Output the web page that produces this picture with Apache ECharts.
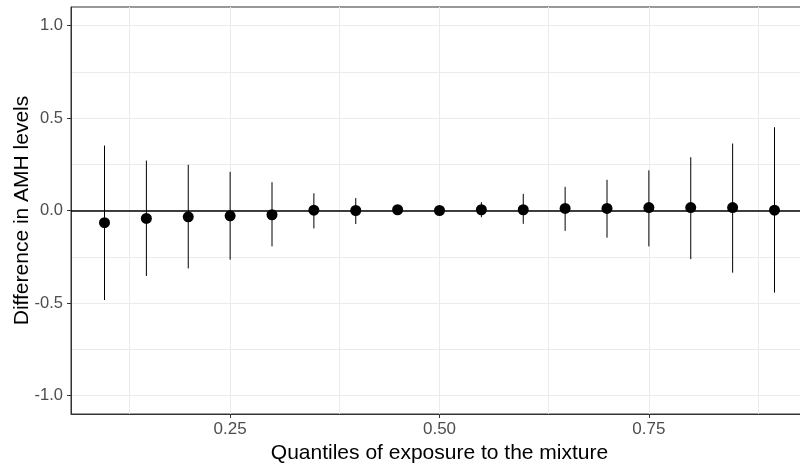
<!DOCTYPE html>
<html>
<head>
<meta charset="utf-8">
<script src="https://cdn.jsdelivr.net/npm/echarts@6/dist/echarts.min.js"></script>
<style>html,body{margin:0;padding:0;background:#fff}#chart{width:800px;height:466px}</style>
</head>
<body>
<div id="chart"></div>
<script>
var quantiles = [0.10,0.15,0.20,0.25,0.30,0.35,0.40,0.45,0.50,0.55,0.60,0.65,0.70,0.75,0.80,0.85,0.90];
var estimate = [-0.066,-0.043,-0.034,-0.029,-0.023,0.002,0.000,0.004,0.000,0.004,0.004,0.011,0.011,0.016,0.016,0.016,0.002];
var lower = [-0.484,-0.354,-0.313,-0.266,-0.194,-0.097,-0.073,-0.020,-0.012,-0.036,-0.072,-0.110,-0.147,-0.194,-0.263,-0.336,-0.444];
var upper = [0.351,0.270,0.247,0.209,0.153,0.093,0.067,0.028,0.012,0.045,0.090,0.128,0.166,0.217,0.288,0.362,0.450];
var xTicks = [0.25,0.50,0.75];
var yTicks = [-1.0,-0.5,0.0,0.5,1.0];
var xMinor = [0.125,0.375,0.625,0.875];
var yMinor = [-0.75,-0.25,0.25,0.75];

var chart = echarts.init(document.getElementById('chart'));
var gridLines = [];
xTicks.concat(xMinor).forEach(function(v){ gridLines.push({xAxis: v}); });
yTicks.concat(yMinor).forEach(function(v){ gridLines.push({yAxis: v}); });

var points = quantiles.map(function(q,i){ return [q, estimate[i]]; });
var bars = quantiles.map(function(q,i){ return [q, lower[i], upper[i]]; });

var FF = 'Liberation Sans, Arial, sans-serif';
chart.setOption({
  animation:false,
  grid:{left:71,right:-8,top:7,bottom:52,containLabel:false,outerBoundsMode:'none',show:true,borderColor:'#333333',borderWidth:1,backgroundColor:'transparent'},
  xAxis:{type:'value',min:0.06,max:0.94,
    name:'Quantiles of exposure to the mixture',nameLocation:'middle',nameGap:29,nameMoveOverlap:false,
    nameTextStyle:{color:'#000',fontSize:21,fontFamily:FF},
    splitLine:{show:false},
    axisLine:{show:true,onZero:false,lineStyle:{color:'#333333',width:1}},
    axisTick:{show:true,customValues:xTicks,length:4,lineStyle:{color:'#333333'}},
    axisLabel:{customValues:xTicks,margin:7,color:'#4D4D4D',fontSize:17,fontFamily:FF,formatter:function(v){return v.toFixed(2);}}
  },
  yAxis:{type:'value',min:-1.1,max:1.1,
    name:'Difference in AMH levels',nameLocation:'middle',nameGap:38,nameMoveOverlap:false,
    nameTextStyle:{color:'#000',fontSize:21,fontFamily:FF},
    splitLine:{show:false},
    axisLine:{show:true,onZero:false,lineStyle:{color:'#333333',width:1}},
    axisTick:{show:true,customValues:yTicks,length:4,lineStyle:{color:'#333333'}},
    axisLabel:{customValues:yTicks,margin:8,color:'#4D4D4D',fontSize:16.5,fontFamily:FF,formatter:function(v){return v.toFixed(1);}}
  },
  series:[
    {type:'scatter',data:[],z:0,silent:true,
      markLine:{z:0,silent:true,symbol:['none','none'],label:{show:false},
        lineStyle:{color:'#EBEBEB',width:1,type:'solid'},data:gridLines}},
    {type:'scatter',data:[],z:1,silent:true,
      markLine:{z:1,silent:true,symbol:['none','none'],label:{show:false},
        lineStyle:{color:'#000000',width:1.7,type:'solid'},data:[{yAxis:0}]}},
    {type:'custom',z:10,data:bars,silent:true,
      renderItem:function(params,api){
        var x = api.value(0);
        var p1 = api.coord([x, api.value(1)]);
        var p2 = api.coord([x, api.value(2)]);
        return {type:'line',shape:{x1:p1[0],y1:p1[1],x2:p2[0],y2:p2[1]},style:{stroke:'#000',lineWidth:1}};
      }},
    {type:'scatter',z:11,data:points,symbol:'circle',symbolSize:11,itemStyle:{color:'#000',opacity:1}}
  ]
});
</script>
</body>
</html>
